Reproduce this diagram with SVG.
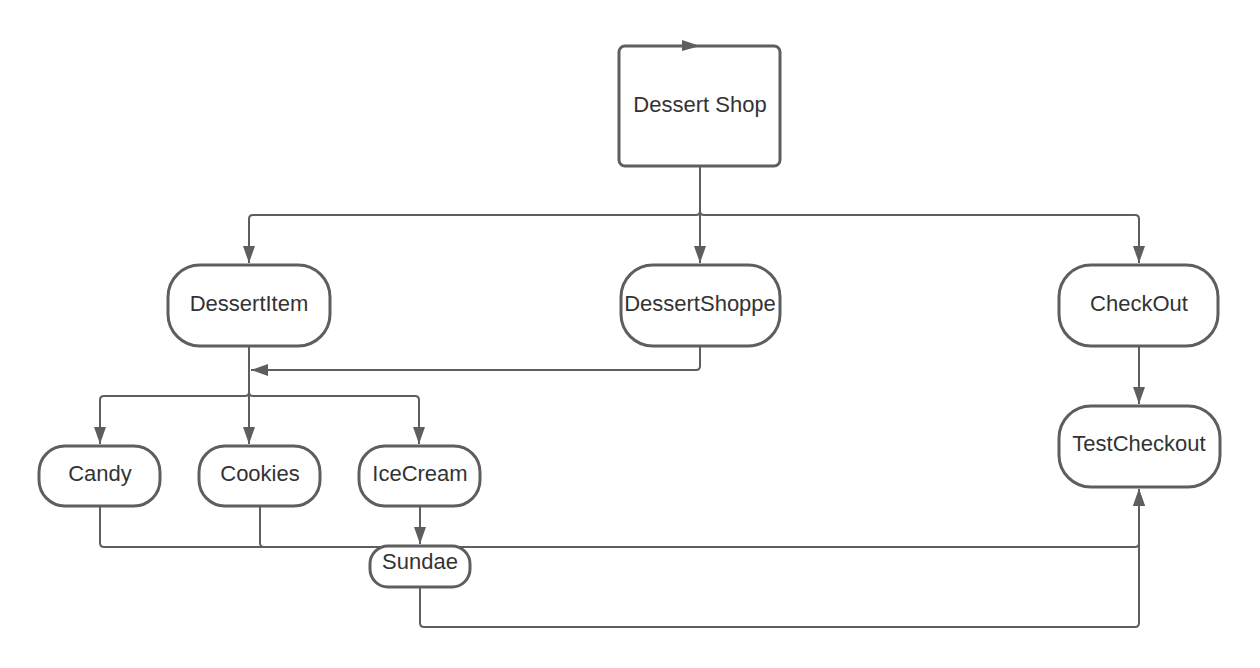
<svg xmlns="http://www.w3.org/2000/svg" width="1260" height="668" viewBox="0 0 1260 668">
<style>
.n{fill:#fff;stroke:#5e5e5e;stroke-width:3}
.c{fill:none;stroke:#5e5e5e;stroke-width:2}
.t{font-family:"Liberation Sans",Arial,sans-serif;font-size:22px;fill:#333;text-anchor:middle}
</style>
<defs>
<marker id="ar" markerUnits="userSpaceOnUse" markerWidth="18" markerHeight="14" refX="17" refY="6" orient="auto">
<path d="M0,0 L17,6 L0,12 Z" fill="#5e5e5e"/>
</marker>
</defs>
<rect width="1260" height="668" fill="#fff"/>
<g id="connectors">
<path class="c" d="M700 166 V263" marker-end="url(#ar)"/>
<path class="c" d="M700 211 Q700 215 696 215 H253 Q249 215 249 219 V263" marker-end="url(#ar)"/>
<path class="c" d="M700 211 Q700 215 704 215 H1135 Q1139 215 1139 219 V263" marker-end="url(#ar)"/>
<path class="c" d="M700 346 V366 Q700 370 696 370 H251" marker-end="url(#ar)"/>
<path class="c" d="M249 346 V444" marker-end="url(#ar)"/>
<path class="c" d="M249 392 Q249 396 245 396 H104 Q100 396 100 400 V444" marker-end="url(#ar)"/>
<path class="c" d="M249 392 Q249 396 253 396 H415 Q419 396 419 400 V444" marker-end="url(#ar)"/>
<path class="c" d="M1139 347 V404" marker-end="url(#ar)"/>
<path class="c" d="M420 506 V544" marker-end="url(#ar)"/>
<path class="c" d="M100 506 V543 Q100 547 104 547 H264"/>
<path class="c" d="M260 506 V543 Q260 547 264 547 H1135 Q1139 547 1139 543 V489" marker-end="url(#ar)"/>
<path class="c" d="M420 587 V623 Q420 627 424 627 H1135 Q1139 627 1139 623 V489" marker-end="url(#ar)"/>
</g>
<g id="dessert-shop">
<rect class="n" x="619" y="46" width="161" height="120" rx="6"/>
<path d="M682 40 L700 46 L682 51 Z" fill="#5e5e5e"/>
<text class="t" x="700" y="112">Dessert Shop</text>
</g>
<g id="dessert-item">
<rect class="n" x="168" y="265" width="162" height="81" rx="32"/>
<text class="t" x="249" y="311">DessertItem</text>
</g>
<g id="dessert-shoppe">
<rect class="n" x="621" y="265" width="159" height="81" rx="32"/>
<text class="t" x="700" y="311">DessertShoppe</text>
</g>
<g id="checkout">
<rect class="n" x="1059" y="265" width="159" height="81" rx="32"/>
<text class="t" x="1139" y="311">CheckOut</text>
</g>
<g id="test-checkout">
<rect class="n" x="1059" y="406" width="161" height="81" rx="32"/>
<text class="t" x="1139" y="451">TestCheckout</text>
</g>
<g id="candy">
<rect class="n" x="39" y="446" width="121" height="60" rx="26"/>
<text class="t" x="100" y="481">Candy</text>
</g>
<g id="cookies">
<rect class="n" x="199" y="446" width="121" height="60" rx="26"/>
<text class="t" x="260" y="481">Cookies</text>
</g>
<g id="icecream">
<rect class="n" x="359" y="446" width="121" height="60" rx="26"/>
<text class="t" x="420" y="481">IceCream</text>
</g>
<g id="sundae">
<rect class="n" x="370" y="546" width="100" height="41" rx="18"/>
<text class="t" x="420" y="569">Sundae</text>
</g>
</svg>
